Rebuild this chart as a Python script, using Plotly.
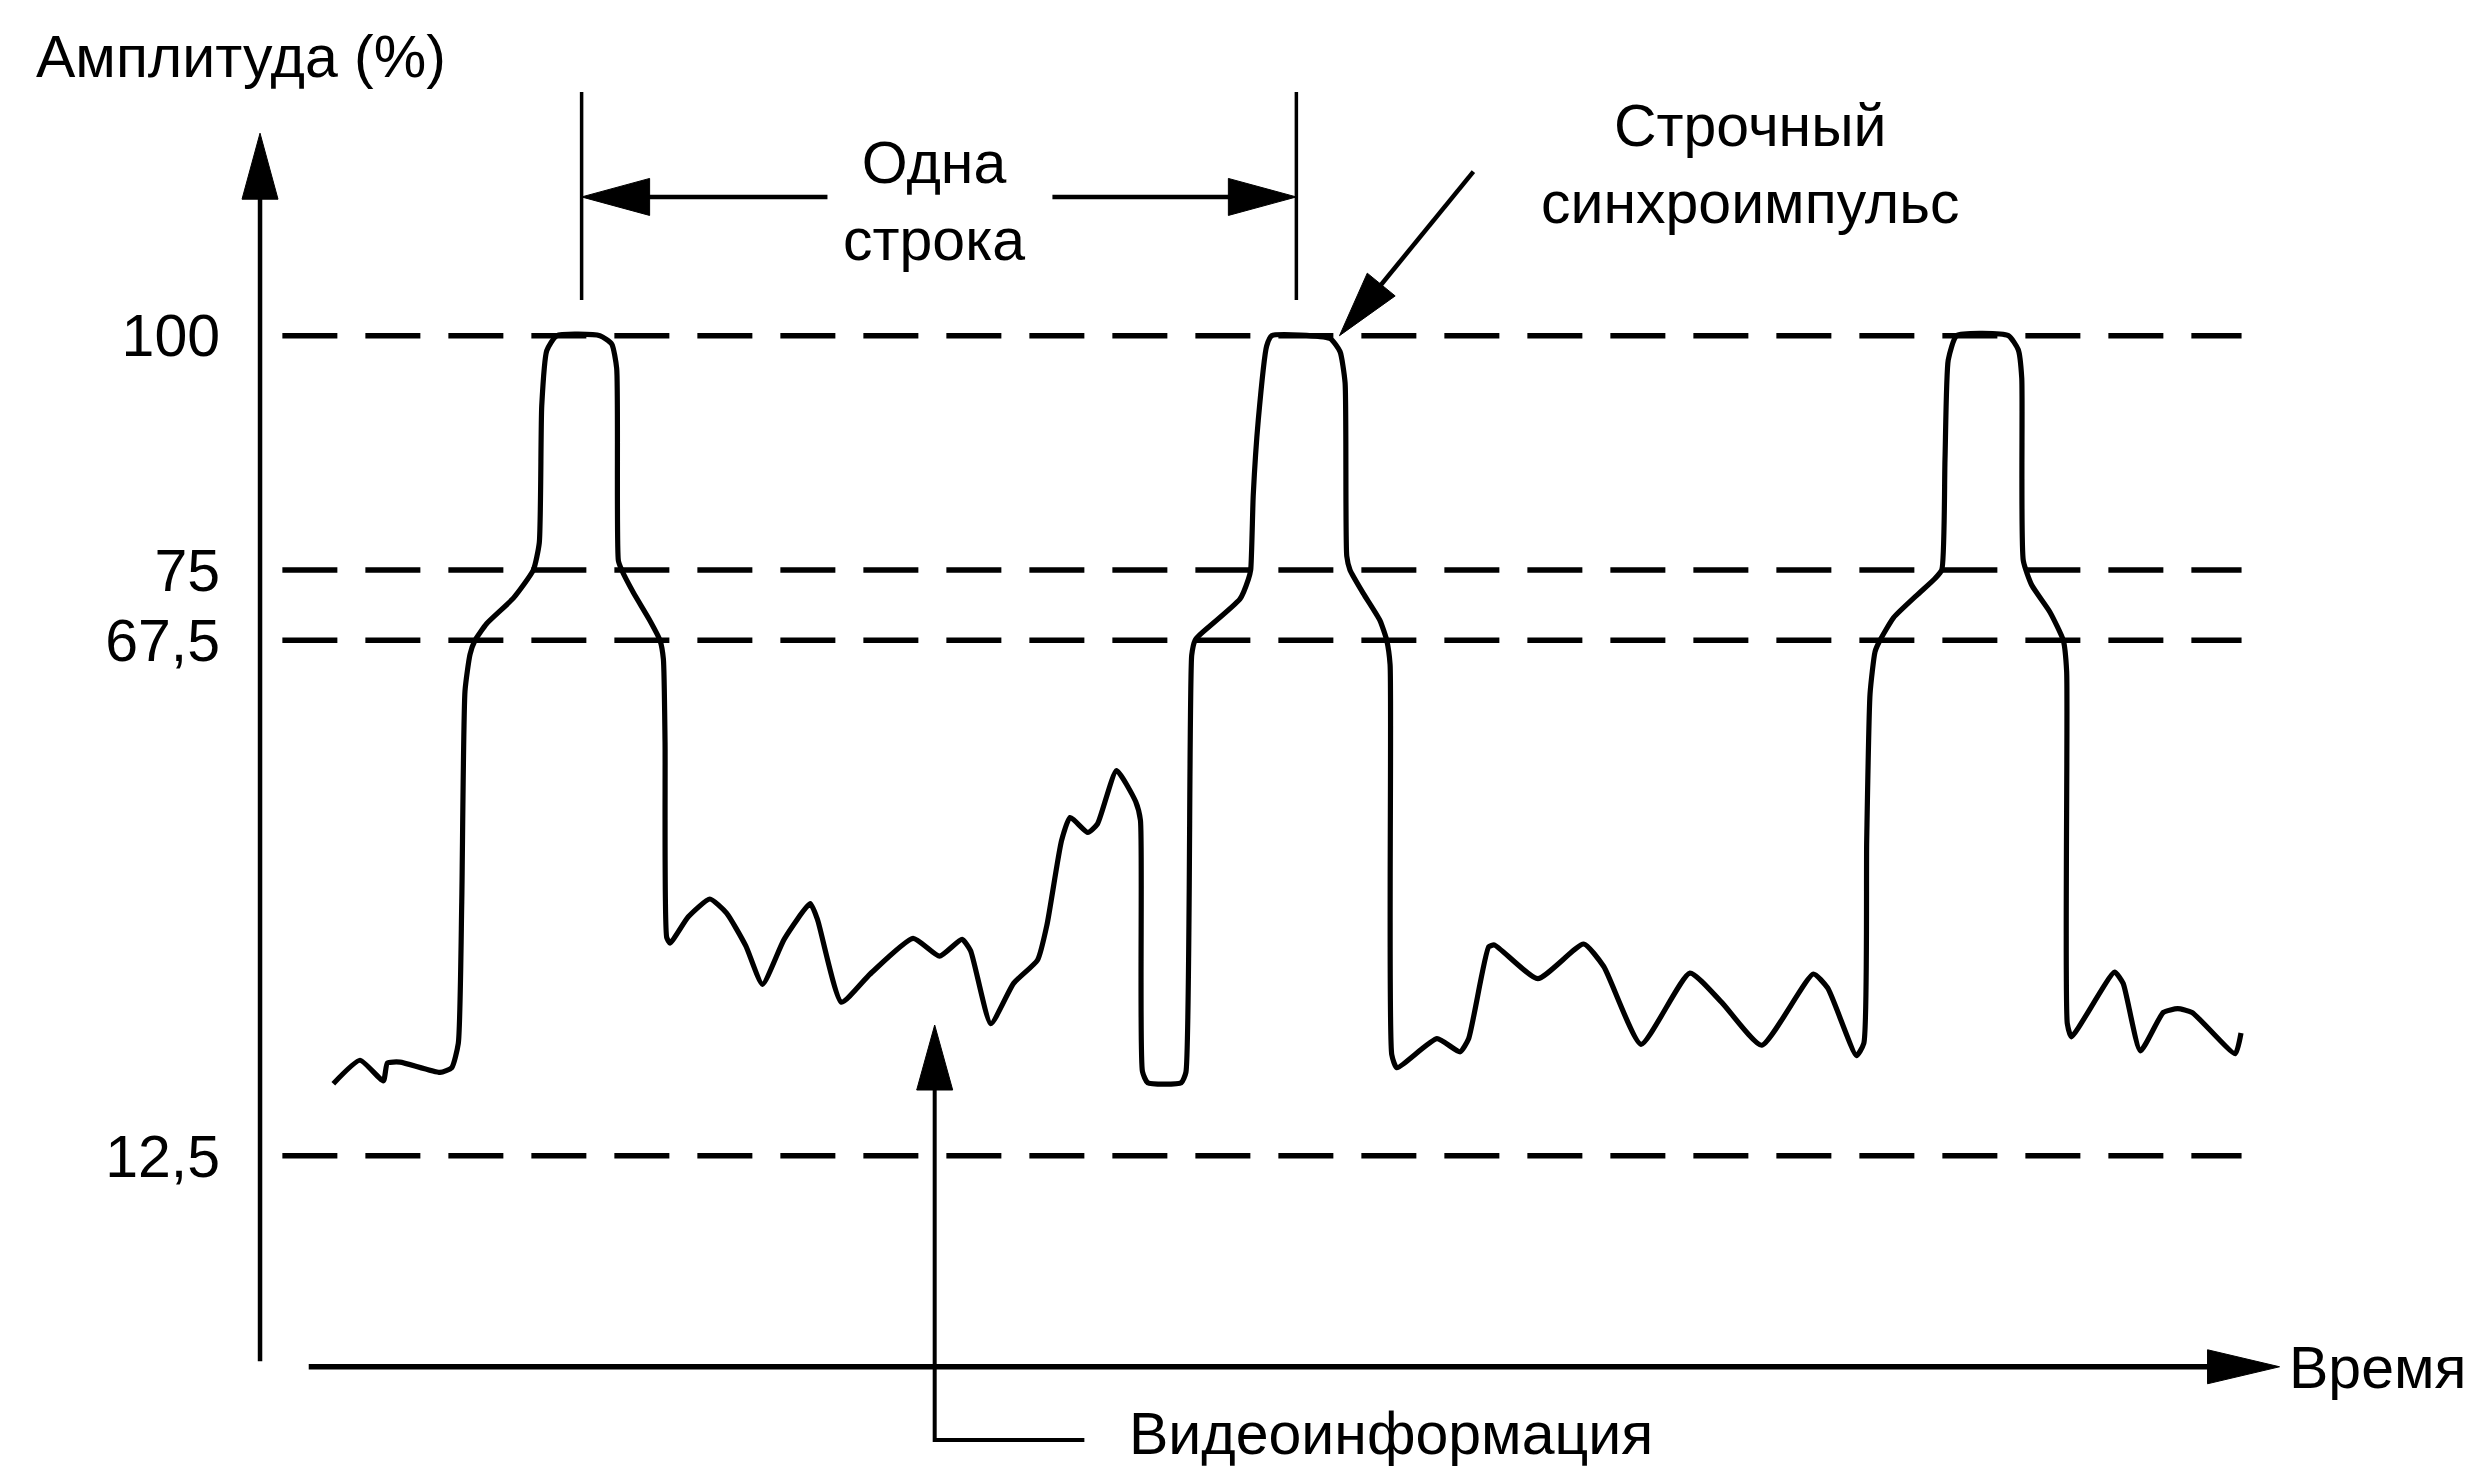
import math
import plotly.graph_objects as go

# ---------------------------------------------------------------------------
# Data: composite video signal (time in µs, amplitude in %)
# ---------------------------------------------------------------------------
LEVELS = [100, 75, 67.5, 12.5]
LEVEL_LABELS = ["100", "75", "67,5", "12,5"]

SIGNAL_T = [
    6.56, 8.95, 11.04, 11.40, 12.53, 16.11, 17.16, 17.75, 18.06, 18.35,
    18.80, 19.25, 20.30, 22.68, 24.47, 25.00, 25.22, 25.67, 26.56, 30.43,
    31.49, 31.93, 32.08, 32.38, 33.42, 34.91, 35.81, 36.11, 36.26, 36.41,
    36.71, 38.34, 40.27, 41.77, 43.49, 44.98, 46.92, 49.26, 49.91, 52.05,
    54.62, 58.47, 60.83, 62.84, 63.61, 65.42, 67.46, 69.61, 70.46, 71.75,
    72.52, 74.11, 74.97, 76.68, 78.39, 78.82, 79.00, 79.47, 82.47, 82.89,
    83.41, 83.71, 84.15, 87.73, 88.48, 88.69, 88.92, 89.37, 90.12, 90.57,
    95.79, 96.69, 97.14, 97.29, 97.58, 98.77, 100.27, 100.87, 101.17, 101.32,
    101.77, 105.37, 107.43, 108.20, 110.00, 110.51, 114.39, 118.50, 120.30, 123.64,
    128.01, 130.84, 134.44, 139.06, 140.35, 142.92, 143.58, 143.84, 144.14, 144.59,
    145.03, 146.23, 148.32, 149.96, 150.56, 150.85, 151.14, 151.90, 156.52, 157.41,
    157.72, 157.86, 158.61, 160.25, 161.44, 161.74, 161.80, 162.17, 166.03, 166.80,
    168.34, 170.40, 171.68, 172.97, 176.83, 177.35,
]
SIGNAL_V = [
    20.2, 22.7, 20.5, 22.4, 22.5, 21.4, 21.9, 24.5, 39.6, 62.1,
    66.0, 67.5, 69.3, 72.0, 75.0, 77.9, 92.5, 98.4, 100, 100,
    99.1, 96.5, 76.0, 75.0, 72.6, 69.6, 67.5, 65.5, 56.6, 35.8,
    35.2, 38.0, 39.9, 38.4, 34.9, 30.8, 35.6, 39.4, 37.7, 28.9,
    31.9, 35.7, 33.8, 35.6, 34.4, 26.6, 30.9, 33.4, 37.2, 46.1,
    48.6, 47.0, 47.9, 53.6, 50.3, 48.3, 21.5, 20.3, 20.3, 21.4,
    65.9, 67.5, 68.1, 71.9, 74.0, 75.0, 83.0, 91.0, 98.9, 100,
    99.7, 98.3, 95.0, 76.5, 75.0, 72.5, 69.6, 67.5, 64.9, 23.3,
    21.9, 25.0, 23.6, 25.0, 34.8, 35.0, 31.4, 35.1, 32.7, 24.4,
    32.0, 28.9, 24.3, 31.9, 30.4, 23.2, 24.5, 46.1, 61.8, 66.3,
    67.5, 69.9, 72.3, 74.1, 75.0, 86.8, 97.4, 100, 100, 98.5,
    95.5, 76.0, 73.4, 70.5, 67.5, 64.2, 26.6, 25.2, 32.1, 30.9,
    23.7, 27.8, 28.2, 27.8, 23.4, 25.6,
]

# One line period (64 µs) between two sync pulses
LINE_START = 28.79
LINE_END = 92.78

# Texts
Y_TITLE = "Амплитуда (%)"
X_TITLE = "Время"
LINE_TEXT = "Одна<br>строка"
SYNC_TEXT = "Строчный<br>синхроимпульс"
VIDEO_TEXT = "Видеоинформация"

# ---------------------------------------------------------------------------
# Canvas geometry
# ---------------------------------------------------------------------------
FIG_W, FIG_H = 2473, 1468
X_RANGE = [-23.28, 198.12]
Y_RANGE = [-20.80, 135.81]
XS = FIG_W / (X_RANGE[1] - X_RANGE[0])   # px per µs
YS = FIG_H / (Y_RANGE[1] - Y_RANGE[0])   # px per %
Y_AXIS_POS = (0 - X_RANGE[0]) / (X_RANGE[1] - X_RANGE[0])

FONT = "Liberation Sans, Arial, Helvetica, sans-serif"
FS = 59
INK = "black"

fig = go.Figure()


def line(xs, ys, width=4, dash=None):
    fig.add_trace(go.Scatter(
        x=xs, y=ys, mode="lines", hoverinfo="skip",
        line=dict(color=INK, width=width, dash=dash),
    ))


def arrow(tail, tip, width=4, head_len=66, head_w=36):
    """Shaft from tail to tip with a filled triangular head at tip."""
    dx = (tip[0] - tail[0]) * XS
    dy = (tip[1] - tail[1]) * YS
    n = math.hypot(dx, dy)
    ux, uy = dx / n, dy / n
    tx, ty = tip[0] * XS, tip[1] * YS
    bx, by = tx - ux * head_len, ty - uy * head_len
    px, py = -uy * head_w / 2, ux * head_w / 2
    # shaft stops inside the head so the point stays sharp
    sx, sy = tx - ux * (head_len - 8), ty - uy * (head_len - 8)
    line([tail[0], sx / XS], [tail[1], sy / YS], width=width)
    hx = [tx / XS, (bx + px) / XS, (bx - px) / XS, tx / XS]
    hy = [ty / YS, (by + py) / YS, (by - py) / YS, ty / YS]
    fig.add_trace(go.Scatter(
        x=hx, y=hy, mode="lines", fill="toself", fillcolor=INK,
        line=dict(color=INK, width=1), hoverinfo="skip",
    ))


# dashed reference levels
for lv in LEVELS:
    line([2.0, 177.4], [lv, lv], width=5.5, dash="55px,28px")

# axes drawn as arrows
arrow((0, -9.4), (0, 121.6), width=4.5)
arrow((4.36, -10.0), (180.8, -10.0), width=5.5, head_len=72, head_w=34)

# one-line period markers and double arrow
for t in (LINE_START, LINE_END):
    line([t, t], [103.8, 126.0], width=3.5)
arrow((50.8, 114.8), (LINE_START, 114.8), width=4.5, head_len=68, head_w=37)
arrow((70.94, 114.8), (LINE_END, 114.8), width=4.5, head_len=68, head_w=37)

# pointer to the line sync pulse
arrow((108.63, 117.5), (96.64, 100.0), width=4.5)

# pointer to the video information
line([73.8, 60.4, 60.4], [-17.8, -17.8, -10.0], width=4)
arrow((60.4, -10.0), (60.4, 26.46), width=4, head_len=65, head_w=36)

# the signal itself
fig.add_trace(go.Scatter(
    x=SIGNAL_T, y=SIGNAL_V, mode="lines", hoverinfo="skip",
    line=dict(color=INK, width=5.2, shape="spline", smoothing=0.5),
))

txt = dict(font=dict(family=FONT, size=FS, color=INK), showarrow=False,
           xref="x", yref="y")
annotations = [
    dict(x=-20.2, y=129.7, text=Y_TITLE, xanchor="left", yanchor="middle", **txt),
    dict(x=181.5, y=-10.1, text=X_TITLE, xanchor="left", yanchor="middle", **txt),
    dict(x=60.34, y=114.3, text=LINE_TEXT, xanchor="center", yanchor="middle", **txt),
    dict(x=133.4, y=118.3, text=SYNC_TEXT, xanchor="center", yanchor="middle", **txt),
    dict(x=77.6, y=-17.2, text=VIDEO_TEXT, xanchor="left", yanchor="middle", **txt),
]

fig.update_layout(
    template="none",
    width=FIG_W, height=FIG_H,
    margin=dict(l=0, r=0, t=0, b=0),
    paper_bgcolor="white", plot_bgcolor="white",
    showlegend=False, hovermode=False,
    font=dict(family=FONT, size=FS, color=INK),
    xaxis=dict(range=X_RANGE, visible=False, fixedrange=True),
    yaxis=dict(
        range=Y_RANGE, anchor="free", position=Y_AXIS_POS,
        tickvals=LEVELS, ticktext=LEVEL_LABELS,
        tickfont=dict(family=FONT, size=FS, color=INK),
        ticks="", ticklabelstandoff=40,
        showgrid=False, zeroline=False, showline=False,
        automargin=False, fixedrange=True,
    ),
    annotations=annotations,
)

fig.write_html("out.html", config={"displayModeBar": False})
